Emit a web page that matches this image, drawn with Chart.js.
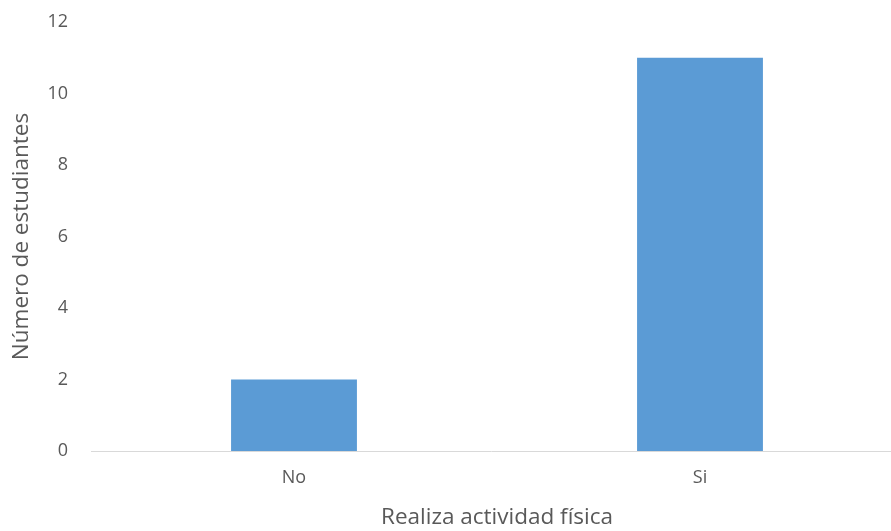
<!DOCTYPE html>
<html>
<head>
<meta charset="utf-8">
<script src="https://cdn.jsdelivr.net/npm/chart.js@4/dist/chart.umd.min.js"></script>
<style>
  html, body { margin: 0; padding: 0; background: #ffffff; }
  #wrap { width: 891px; height: 531px; }
</style>
</head>
<body>
<div id="wrap"><canvas id="chart" width="891" height="531"></canvas></div>
<script>
// Students grouped by whether they do physical activity
const categories = ['No', 'Si'];
const students = [2, 11];
const yTicks = [0, 2, 4, 6, 8, 10, 12];

const textColor = '#595959';
const fontFamily = "'Open Sans', 'Liberation Sans', sans-serif";

// Fixed plot frame; the category axis runs slightly past the right edge of the canvas
const frame = { left: 91, top: 22, right: 903, bottom: 451 };

const fixedFrame = {
  id: 'fixedFrame',
  afterLayout(chart) {
    const x = chart.scales.x, y = chart.scales.y;
    const w = chart.width, h = chart.height;
    chart.chartArea = {
      left: frame.left, top: frame.top, right: frame.right, bottom: frame.bottom,
      width: frame.right - frame.left, height: frame.bottom - frame.top
    };
    Object.assign(x, { left: frame.left, right: frame.right, width: frame.right - frame.left,
                       top: frame.bottom, bottom: h, height: h - frame.bottom });
    Object.assign(y, { left: 0, right: frame.left, width: frame.left,
                       top: frame.top, bottom: frame.bottom, height: frame.bottom - frame.top });
    x.configure();
    y.configure();
  }
};

new Chart(document.getElementById('chart'), {
  type: 'bar',
  data: {
    labels: categories,
    datasets: [{
      data: students,
      backgroundColor: '#5b9bd5',
      borderWidth: 0,
      categoryPercentage: 0.31,
      barPercentage: 1.0
    }]
  },
  plugins: [fixedFrame],
  options: {
    responsive: false,
    animation: false,
    plugins: { legend: { display: false }, tooltip: { enabled: false } },
    scales: {
      x: {
        grid: { display: false, drawTicks: false },
        border: { display: true, color: '#d9d9d9', width: 1 },
        ticks: { color: textColor, font: { family: fontFamily, size: 18 }, padding: 16 },
        title: {
          display: true,
          text: 'Realiza actividad física',
          color: textColor,
          font: { family: fontFamily, size: 22.5 },
          padding: { top: 0, bottom: 0 }
        }
      },
      y: {
        min: 0,
        max: 12,
        afterBuildTicks: (axis) => { axis.ticks = yTicks.map(v => ({ value: v })); },
        grid: { display: false, drawTicks: false },
        border: { display: false },
        ticks: { color: textColor, font: { family: fontFamily, size: 18 }, padding: 23 },
        title: {
          display: true,
          text: 'Número de estudiantes',
          color: textColor,
          font: { family: fontFamily, size: 22.5 },
          padding: { top: 8, bottom: 0 }
        }
      }
    }
  }
});
</script>
</body>
</html>
